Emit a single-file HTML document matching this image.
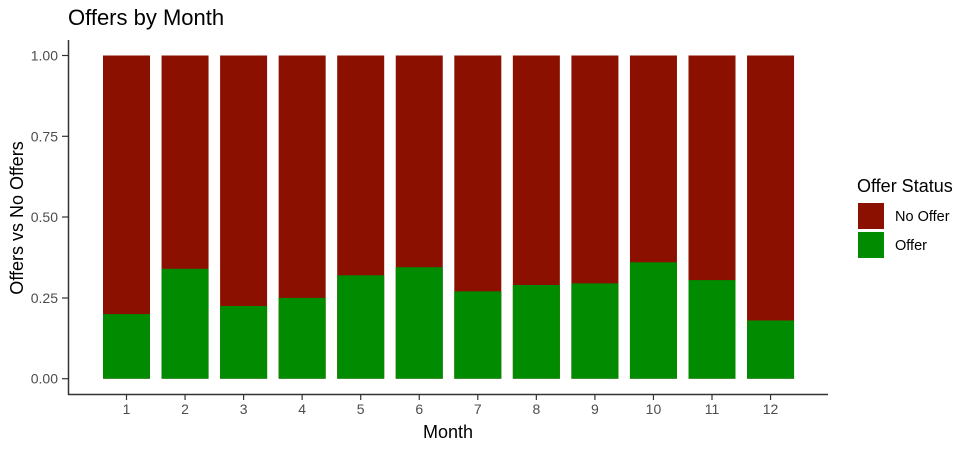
<!DOCTYPE html>
<html><head><meta charset="utf-8"><style>body{margin:0;background:#fff}</style></head><body>
<svg width="974" height="447" xmlns="http://www.w3.org/2000/svg" font-family="Liberation Sans, sans-serif">
<text x="68" y="25" font-size="22" fill="#000">Offers by Month</text>
<g fill="#4d4d4d" font-size="14" text-anchor="end">
<text x="58" y="60.5">1.00</text><text x="58" y="141.3">0.75</text><text x="58" y="222">0.50</text><text x="58" y="303">0.25</text><text x="58" y="383.7">0.00</text>
</g>
<g stroke="#333" stroke-width="1.2">
<line x1="62" y1="55.5" x2="68" y2="55.5"/><line x1="62" y1="136.3" x2="68" y2="136.3"/><line x1="62" y1="217" x2="68" y2="217"/><line x1="62" y1="298" x2="68" y2="298"/><line x1="62" y1="378.7" x2="68" y2="378.7"/>
</g>
<g fill="#8b1000">
<rect x="103" y="55.5" width="47" height="323.2"/>
<rect x="161.55" y="55.5" width="47" height="323.2"/>
<rect x="220.1" y="55.5" width="47" height="323.2"/>
<rect x="278.65" y="55.5" width="47" height="323.2"/>
<rect x="337.2" y="55.5" width="47" height="323.2"/>
<rect x="395.75" y="55.5" width="47" height="323.2"/>
<rect x="454.3" y="55.5" width="47" height="323.2"/>
<rect x="512.85" y="55.5" width="47" height="323.2"/>
<rect x="571.4" y="55.5" width="47" height="323.2"/>
<rect x="629.95" y="55.5" width="47" height="323.2"/>
<rect x="688.5" y="55.5" width="47" height="323.2"/>
<rect x="747.05" y="55.5" width="47" height="323.2"/>
</g>
<g fill="#008b00">
<rect x="103" y="314.1" width="47" height="64.6"/>
<rect x="161.55" y="268.8" width="47" height="109.9"/>
<rect x="220.1" y="306.0" width="47" height="72.7"/>
<rect x="278.65" y="297.9" width="47" height="80.8"/>
<rect x="337.2" y="275.3" width="47" height="103.4"/>
<rect x="395.75" y="267.2" width="47" height="111.5"/>
<rect x="454.3" y="291.4" width="47" height="87.3"/>
<rect x="512.85" y="285.0" width="47" height="93.7"/>
<rect x="571.4" y="283.4" width="47" height="95.3"/>
<rect x="629.95" y="262.3" width="47" height="116.4"/>
<rect x="688.5" y="280.1" width="47" height="98.6"/>
<rect x="747.05" y="320.5" width="47" height="58.2"/>
</g>
<g stroke="#333" stroke-width="1.2">
<line x1="126.5" y1="395" x2="126.5" y2="400"/>
<line x1="185.05" y1="395" x2="185.05" y2="400"/>
<line x1="243.6" y1="395" x2="243.6" y2="400"/>
<line x1="302.15" y1="395" x2="302.15" y2="400"/>
<line x1="360.7" y1="395" x2="360.7" y2="400"/>
<line x1="419.25" y1="395" x2="419.25" y2="400"/>
<line x1="477.8" y1="395" x2="477.8" y2="400"/>
<line x1="536.35" y1="395" x2="536.35" y2="400"/>
<line x1="594.9" y1="395" x2="594.9" y2="400"/>
<line x1="653.45" y1="395" x2="653.45" y2="400"/>
<line x1="712" y1="395" x2="712" y2="400"/>
<line x1="770.55" y1="395" x2="770.55" y2="400"/>
</g>
<g fill="#4d4d4d" font-size="14" text-anchor="middle">
<text x="126.5" y="414">1</text>
<text x="185.05" y="414">2</text>
<text x="243.6" y="414">3</text>
<text x="302.15" y="414">4</text>
<text x="360.7" y="414">5</text>
<text x="419.25" y="414">6</text>
<text x="477.8" y="414">7</text>
<text x="536.35" y="414">8</text>
<text x="594.9" y="414">9</text>
<text x="653.45" y="414">10</text>
<text x="712" y="414">11</text>
<text x="770.55" y="414">12</text>
</g>
<line x1="68.5" y1="40" x2="68.5" y2="395" stroke="#333" stroke-width="1.5"/>
<line x1="68" y1="394.5" x2="828" y2="394.5" stroke="#333" stroke-width="1.5"/>
<text transform="translate(23,218) rotate(-90)" text-anchor="middle" font-size="18" fill="#000">Offers vs No Offers</text>
<text x="448" y="438" text-anchor="middle" font-size="18" fill="#000">Month</text>
<text x="857" y="192" font-size="18" fill="#000">Offer Status</text>
<rect x="858" y="203" width="26" height="26" fill="#8b1000"/>
<rect x="858" y="232" width="26" height="26" fill="#008b00"/>
<text x="895" y="221" font-size="14.5" fill="#000">No Offer</text>
<text x="895" y="250" font-size="14.5" fill="#000">Offer</text>
</svg>
</body></html>
